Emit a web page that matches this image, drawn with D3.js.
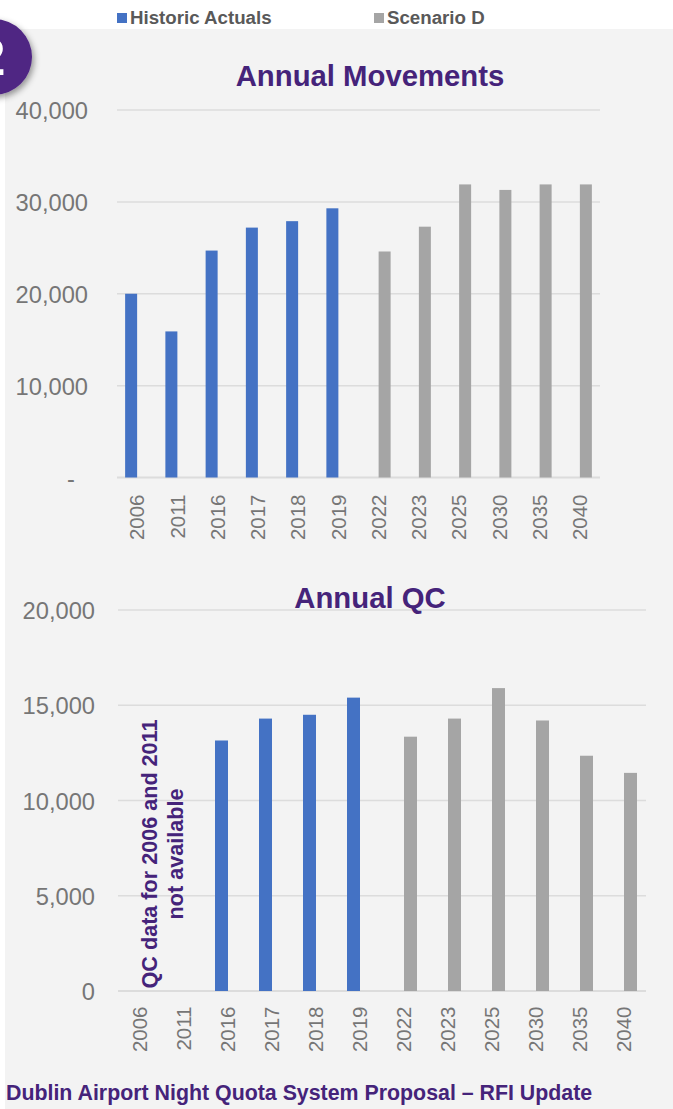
<!DOCTYPE html>
<html><head><meta charset="utf-8">
<script src="https://cdnjs.cloudflare.com/ajax/libs/d3/7.8.5/d3.min.js"></script>
<style>html,body{margin:0;padding:0;background:#fff}svg{display:block}text{font-family:"Liberation Sans",Arial,sans-serif}</style>
</head><body><svg id="c" width="673" height="1109"></svg>
<script>
const years=["2006","2011","2016","2017","2018","2019","2022","2023","2025","2030","2035","2040"];
const movementsHistoric=[20000,15900,24700,27200,27900,29300,null,null,null,null,null,null];
const movementsScenario=[null,null,null,null,null,null,24600,27300,31900,31300,31900,31900];
const qcHistoric=[null,null,13150,14300,14500,15400,null,null,null,null,null,null];
const qcScenario=[null,null,null,null,null,null,13350,14300,15900,14200,12350,11450];
const movementTicks=[0,10000,20000,30000,40000];
const qcTicks=[0,5000,10000,15000,20000];
const BLUE="#4472c4",GRAY="#a5a5a5",PURPLE="#45237a",GRID="#dcdcdc",TXT="#767676";
const svg=d3.select("#c");
const defs=svg.append("defs");
const f=defs.append("filter").attr("id","sh").attr("x","-30%").attr("y","-30%").attr("width","170%").attr("height","170%");
f.append("feDropShadow").attr("dx",2).attr("dy",3).attr("stdDeviation",3).attr("flood-color","#000").attr("flood-opacity",.4);
svg.append("rect").attr("x",5).attr("y",29).attr("width",668).attr("height",1080).attr("fill","#f3f3f3");

// legend
[[117,"Historic Actuals",BLUE],[374,"Scenario D",GRAY]].forEach(([x,t,c])=>{
  svg.append("rect").attr("x",x).attr("y",13).attr("width",10).attr("height",10).attr("fill",c);
  svg.append("text").attr("x",x+13).attr("y",24).attr("font-size",18.7).attr("font-weight",700).attr("fill","#595959").text(t);
});
// badge
svg.append("circle").attr("cx",-6).attr("cy",57).attr("r",38).attr("fill","#4f2683").attr("filter","url(#sh)");
svg.append("text").attr("x",-9).attr("y",75).attr("text-anchor","middle").attr("font-size",52).attr("font-weight",700).attr("fill","#fff").text("2");

function chart(o){
  const x=d3.scaleBand().domain(years).range([o.x0,o.x1]);
  const y=d3.scaleLinear().domain(o.domain).range([o.y0,o.y1]);
  const g=svg.append("g");
  g.append("g").selectAll("line").data(o.ticks).join("line")
    .attr("x1",o.x0).attr("x2",o.x1).attr("y1",d=>y(d)).attr("y2",d=>y(d))
    .attr("stroke",GRID).attr("stroke-width",d=>d===0?2:1.5);
  const ya=g.append("g").attr("transform",`translate(${o.x0},1)`)
    .call(d3.axisLeft(y).tickValues(o.ticks).tickSize(0).tickPadding(0).tickFormat(o.fmt));
  ya.select(".domain").remove();
  ya.selectAll("text").attr("x",d=>o.yLabelX-(d===0?o.zeroShift:0)).attr("font-size",23.7).attr("fill",TXT).attr("font-family",'"Liberation Sans"');
  const xa=g.append("g").attr("transform",`translate(0,${o.y0})`).call(d3.axisBottom(x).tickSize(0));
  xa.select(".domain").remove();
  xa.selectAll("text").attr("transform",`translate(0,${o.xLabelY}) rotate(-90)`).attr("x",0).attr("y",0).attr("dy","0.35em")
    .attr("text-anchor","end").attr("font-size",20.5).attr("fill",TXT).attr("font-family",'"Liberation Sans"');
  [[o.a,BLUE,-o.off],[o.b,GRAY,o.off]].forEach(([vals,c,off])=>{
    g.append("g").selectAll("rect").data(years.map((k,i)=>({k,v:vals[i]})).filter(d=>d.v!=null)).join("rect")
      .attr("x",d=>x(d.k)+x.bandwidth()/2+off-o.bw/2).attr("width",o.bw)
      .attr("y",d=>y(d.v)).attr("height",d=>o.y0-y(d.v)).attr("fill",c);
  });
  svg.append("text").attr("x",o.tx).attr("y",o.ty).attr("text-anchor","middle").attr("font-size",29.3).attr("font-weight",700).attr("fill",PURPLE).text(o.title);
}
chart({x0:117,x1:600,y0:477.5,y1:110,domain:[0,40000],ticks:movementTicks,a:movementsHistoric,b:movementsScenario,
  off:6,bw:12,title:"Annual Movements",tx:370,ty:86,yLabelX:-29,zeroShift:13,xLabelY:17,
  fmt:d=>d===0?"-":d3.format(",")(d)});
chart({x0:118,x1:646,y0:991,y1:610,domain:[0,20000],ticks:qcTicks,a:qcHistoric,b:qcScenario,
  off:6.5,bw:13,title:"Annual QC",tx:370,ty:608,yLabelX:-23,zeroShift:0,xLabelY:15.5,
  fmt:d=>d3.format(",")(d)});

const note=svg.append("text").attr("transform","translate(157,854) rotate(-90)").attr("text-anchor","middle")
  .attr("font-size",21.6).attr("font-weight",700).attr("fill",PURPLE);
note.append("tspan").attr("x",0).attr("y",0).text("QC data for 2006 and 2011");
note.append("tspan").attr("x",0).attr("y",26).text("not available");
svg.append("text").attr("x",6).attr("y",1100).attr("font-size",21.35).attr("font-weight",700).attr("fill",PURPLE).text("Dublin Airport Night Quota System Proposal – RFI Update");
</script></body></html>
